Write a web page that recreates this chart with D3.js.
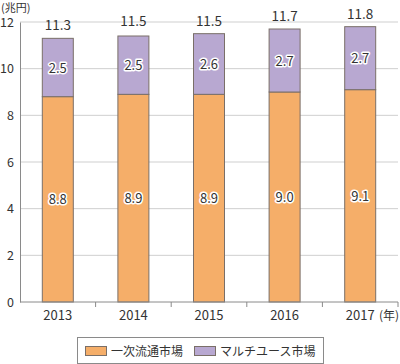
<!DOCTYPE html>
<html><head><meta charset="utf-8">
<script src="https://cdn.jsdelivr.net/npm/d3@7"></script>
<style>body{margin:0;background:#fff}svg{display:block}text{font-family:"Noto Sans CJK JP","Noto Sans",sans-serif}</style>
</head><body>
<script>
const years = ["2013","2014","2015","2016","2017"];
const primary = [8.8, 8.9, 8.9, 9.0, 9.1];
const multiuse = [2.5, 2.5, 2.6, 2.7, 2.7];
const totals = [11.3, 11.5, 11.5, 11.7, 11.8];
const yTicks = [0, 2, 4, 6, 8, 10, 12];
const seriesNames = ["一次流通市場", "マルチユース市場"];
const colors = ["#F5AE69", "#B8A8D1"];

const W = 400, H = 364;
const svg = d3.select("body").append("svg").attr("width", W).attr("height", H);
const x = d3.scaleBand().domain(years).range([20, 398]).paddingInner(0.59).paddingOuter(0.295);
const y = d3.scaleLinear().domain([0, 12]).range([302, 22]);

// gridlines
svg.append("g").selectAll("line").data(yTicks.filter(d => d > 0)).join("line")
  .attr("x1", 20).attr("x2", 398).attr("y1", d => y(d)).attr("y2", d => y(d))
  .attr("stroke", "#cfcfcf").attr("stroke-width", 1);

// y axis
const yAxis = d3.axisLeft(y).tickValues(yTicks).tickSize(0).tickPadding(6);
const gy = svg.append("g").attr("transform", "translate(20,0)").call(yAxis);
gy.select(".domain").attr("stroke", "#8a8a8a");
gy.selectAll("text").attr("font-size", 12.5).attr("fill", "#333").attr("font-family", null);

// bars
const stackData = years.map((yr, i) => ({yr, a: primary[i], b: multiuse[i]}));
const stack = d3.stack().keys(["a", "b"])(stackData);
svg.append("g").selectAll("g").data(stack).join("g")
  .attr("fill", (d, i) => colors[i])
  .selectAll("rect").data(d => d).join("rect")
  .attr("x", d => x(d.data.yr)).attr("width", x.bandwidth())
  .attr("y", d => y(d[1])).attr("height", d => y(d[0]) - y(d[1]))
  .attr("stroke", "#7a6f68").attr("stroke-width", 1);

// x axis
const gx = svg.append("g").attr("transform", "translate(0,302)");
gx.append("line").attr("x1", 20).attr("x2", 398).attr("stroke", "#8a8a8a");
const bounds = years.map((yr, i) => x(yr) - x.step() * x.paddingInner() / 2 + x.step());
gx.selectAll("line.t").data(bounds).join("line").attr("class", "t")
  .attr("x1", d => d).attr("x2", d => d).attr("y1", 0).attr("y2", 5).attr("stroke", "#8a8a8a");
gx.selectAll("text").data(years).join("text")
  .attr("x", d => x(d) + x.bandwidth() / 2).attr("y", 18)
  .attr("text-anchor", "middle").attr("font-size", 13).attr("fill", "#333").text(d => d);
svg.append("text").attr("x", 399).attr("y", 320).attr("text-anchor", "end").attr("font-size", 12).attr("fill", "#333").text("(年)");
svg.append("text").attr("x", 1).attr("y", 12).attr("font-size", 11).attr("fill", "#333").text("(兆円)");

// segment labels
stack.forEach(layer => {
  svg.append("g").selectAll("text").data(layer).join("text")
    .attr("x", d => x(d.data.yr) + x.bandwidth() / 2)
    .attr("y", d => (y(d[0]) + y(d[1])) / 2 + 5)
    .attr("text-anchor", "middle").attr("font-size", 13).attr("fill", "#333")
    .attr("stroke", "#fff").attr("stroke-width", 3).attr("paint-order", "stroke")
    .attr("stroke-linejoin", "round")
    .text(d => (d[1] - d[0]).toFixed(1));
});

// totals
svg.append("g").selectAll("text").data(years).join("text")
  .attr("x", d => x(d) + x.bandwidth() / 2)
  .attr("y", (d, i) => y(totals[i]) - 8)
  .attr("text-anchor", "middle").attr("font-size", 13.5).attr("fill", "#333")
  .text((d, i) => totals[i].toFixed(1));

// legend
const lg = svg.append("g");
lg.append("rect").attr("x", 77.5).attr("y", 337.5).attr("width", 246).attr("height", 26)
  .attr("fill", "#fff").attr("stroke", "#8a8a8a");
const lx = [85, 194];
seriesNames.forEach((n, i) => {
  lg.append("rect").attr("x", lx[i] + 0.5).attr("y", 346.5).attr("width", 21).attr("height", 9)
    .attr("fill", colors[i]).attr("stroke", "#7a6f68");
  lg.append("text").attr("x", lx[i] + 26).attr("y", 355.5).attr("font-size", 12).attr("fill", "#333").text(n);
});
</script>
</body></html>
